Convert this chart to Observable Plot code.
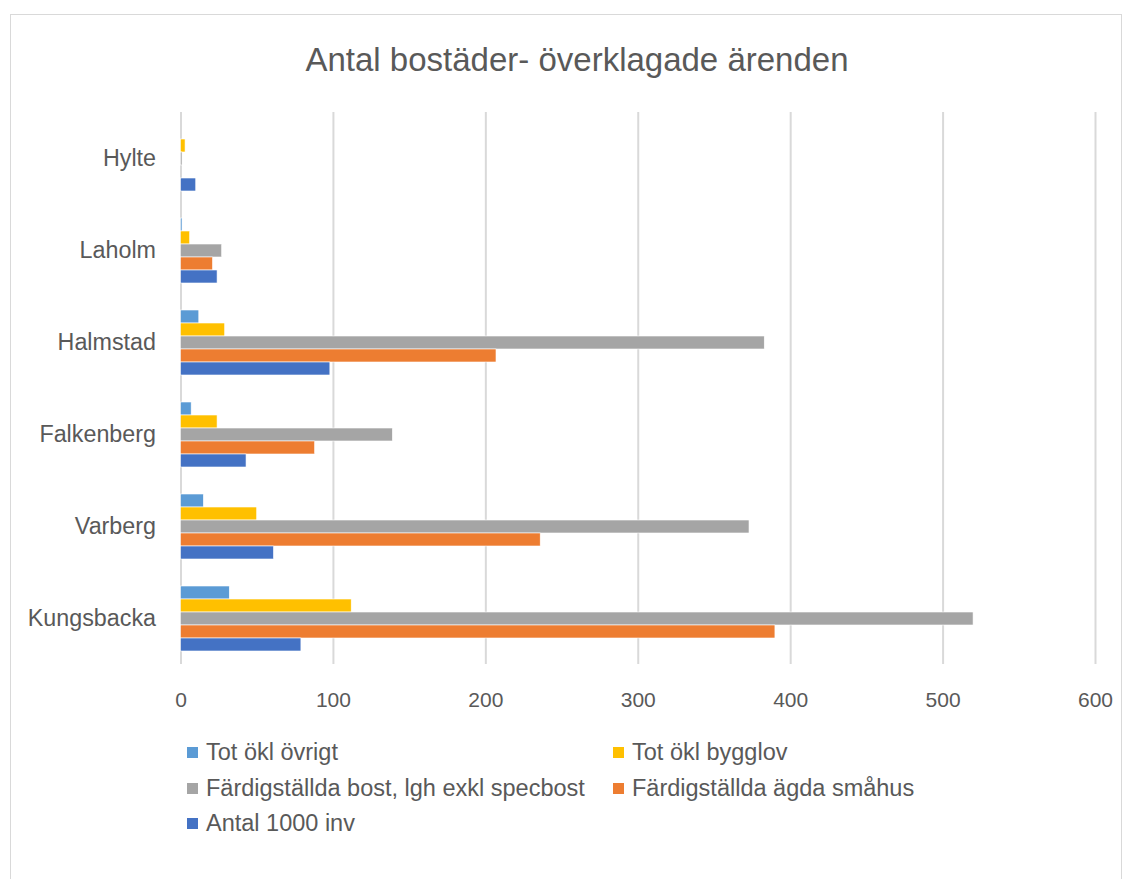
<!DOCTYPE html>
<html>
<head>
<meta charset="utf-8">
<script src="https://cdn.jsdelivr.net/npm/d3@7"></script>
<script src="https://cdn.jsdelivr.net/npm/@observablehq/plot@0.6"></script>
<style>
  body { margin: 0; background: #fff; font-family: "Liberation Sans", Arial, sans-serif; }
  #wrap { position: relative; width: 1134px; height: 879px; overflow: hidden; }
  #frame { position: absolute; left: 10px; top: 14px; width: 1112px; height: 900px; border: 1px solid #d9d9d9; box-sizing: border-box; }
  #title { position: absolute; left: 0; top: 40px; width: 1154px; text-align: center; font-size: 33px; color: #595959; line-height: 40px; }
  #chart { position: absolute; left: 0; top: 100px; }
  #legend { position: absolute; left: 187px; top: 739px; width: 900px; font-size: 23.5px; color: #595959; }
  .item { position: absolute; display: flex; align-items: center; white-space: nowrap; }
  .sw { width: 11px; height: 11px; margin-right: 8px; }
</style>
</head>
<body>
<div id="wrap">
  <div id="frame"></div>
  <div id="title">Antal bostäder- överklagade ärenden</div>
  <div id="chart"></div>
  <div id="legend"></div>
</div>
<script>
const cities = ["Hylte", "Laholm", "Halmstad", "Falkenberg", "Varberg", "Kungsbacka"];
const seriesNames = ["Tot ökl övrigt", "Tot ökl bygglov", "Färdigställda bost, lgh exkl specbost", "Färdigställda ägda småhus", "Antal 1000 inv"];
const seriesColors = ["#5B9BD5", "#FFC000", "#A5A5A5", "#ED7D31", "#4472C4"];
const totOklOvrigt = [0, 1, 12, 7, 15, 32];
const totOklBygglov = [3, 6, 29, 24, 50, 112];
const fardigBost = [1, 27, 383, 139, 373, 520];
const fardigSmahus = [0, 21, 207, 88, 236, 390];
const antal1000inv = [10, 24, 98, 43, 61, 79];
const xTicks = [0, 100, 200, 300, 400, 500, 600];

const seriesValues = [totOklOvrigt, totOklBygglov, fardigBost, fardigSmahus, antal1000inv];
const data = [];
cities.forEach((c, i) => {
  seriesNames.forEach((s, j) => {
    data.push({city: c, series: s, value: seriesValues[j][i]});
  });
});

const chart = Plot.plot({
  width: 1134,
  height: 622,
  marginLeft: 180.5,
  marginRight: 39,
  marginTop: 12,
  marginBottom: 58,
  style: { fontFamily: "Liberation Sans, Arial, sans-serif", color: "#595959", background: "transparent" },
  x: { domain: [0, 600], ticks: xTicks, tickSize: 0, tickPadding: 28, label: null, tickFormat: d => String(d) },
  y: { domain: seriesNames, axis: null, paddingInner: 0, paddingOuter: 0.88 },
  fy: { domain: cities, padding: 0, axis: "left", tickSize: 0, tickPadding: 25, label: null },
  color: { domain: seriesNames, range: seriesColors },
  marks: [
    Plot.ruleX(xTicks, { stroke: "#d9d9d9", strokeWidth: 2 }),
    Plot.barX(data, { x: "value", y: "series", fy: "city", fill: "series", inset: 0, stroke: "white", strokeWidth: 0.6 })
  ]
});
d3.select(chart).selectAll("[aria-label='x-axis tick label'] text").style("font-size", "21px");
d3.select(chart).selectAll("[aria-label='fy-axis tick label'] text").style("font-size", "23.3px");
document.getElementById("chart").appendChild(chart);

const legend = document.getElementById("legend");
const pos = [[0, 0], [426, 0], [0, 36], [426, 36], [0, 71]];
seriesNames.forEach((s, j) => {
  const it = document.createElement("div");
  it.className = "item";
  it.style.left = pos[j][0] + "px";
  it.style.top = pos[j][1] + "px";
  const sw = document.createElement("span");
  sw.className = "sw";
  sw.style.background = seriesColors[j];
  const tx = document.createElement("span");
  tx.textContent = s;
  it.appendChild(sw);
  it.appendChild(tx);
  legend.appendChild(it);
});
</script>
</body>
</html>
